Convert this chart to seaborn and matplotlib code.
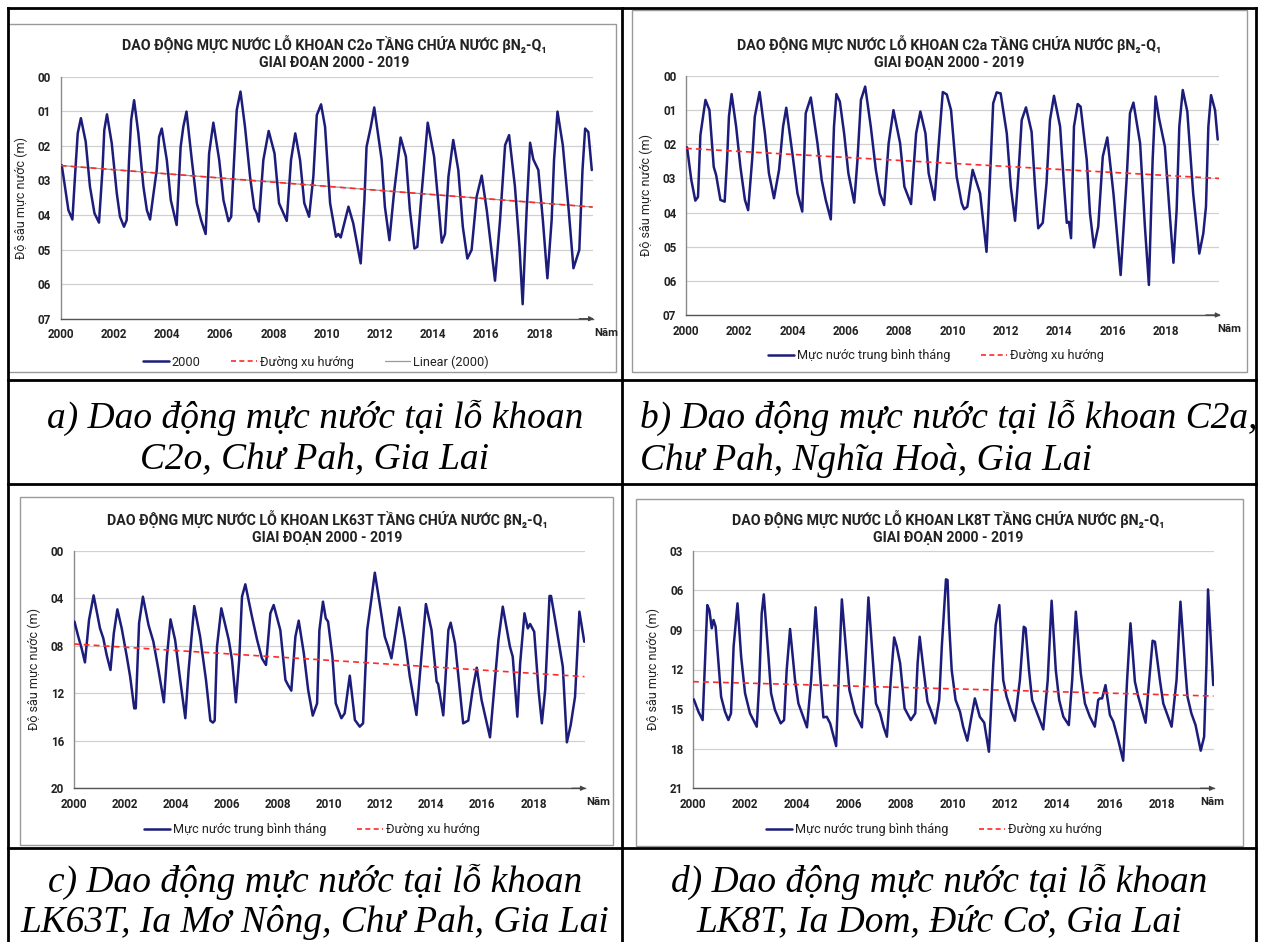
import matplotlib
matplotlib.use("Agg")
import matplotlib.pyplot as plt
import seaborn as sns
import pandas as pd
from matplotlib.lines import Line2D
from matplotlib.patches import Rectangle
from matplotlib.ticker import FuncFormatter
from matplotlib import font_manager

# ---------------- data: monthly-average water depth (m) ----------------
years_c2o = [2000.04, 2000.16, 2000.29, 2000.44, 2000.56, 2000.64, 2000.76, 2000.94, 2001.10, 2001.27,
             2001.44, 2001.57, 2001.64, 2001.74, 2001.92, 2002.11, 2002.23, 2002.38, 2002.48, 2002.57,
             2002.65, 2002.76, 2002.92, 2003.11, 2003.24, 2003.36, 2003.49, 2003.61, 2003.70, 2003.80,
             2003.99, 2004.14, 2004.36, 2004.51, 2004.61, 2004.73, 2004.93, 2005.12, 2005.28, 2005.45,
             2005.58, 2005.74, 2005.96, 2006.12, 2006.31, 2006.41, 2006.52, 2006.62, 2006.76, 2006.93,
             2007.12, 2007.28, 2007.37, 2007.45, 2007.62, 2007.82, 2008.04, 2008.21, 2008.50, 2008.66,
             2008.82, 2009.00, 2009.16, 2009.34, 2009.50, 2009.63, 2009.79, 2009.94, 2010.13, 2010.35,
             2010.44, 2010.53, 2010.82, 2011.00, 2011.28, 2011.42, 2011.50, 2011.66, 2011.79, 2012.07,
             2012.19, 2012.36, 2012.53, 2012.78, 2012.98, 2013.13, 2013.30, 2013.41, 2013.57, 2013.80,
             2014.04, 2014.20, 2014.33, 2014.45, 2014.58, 2014.76, 2014.95, 2015.12, 2015.29, 2015.45,
             2015.64, 2015.83, 2016.02, 2016.33, 2016.52, 2016.71, 2016.86, 2017.08, 2017.25, 2017.37,
             2017.52, 2017.65, 2017.77, 2017.96, 2018.13, 2018.30, 2018.46, 2018.55, 2018.68, 2018.88,
             2019.09, 2019.28, 2019.50, 2019.62, 2019.72, 2019.84, 2019.97]
depth_c2o = [2.56, 3.18, 3.86, 4.13, 2.60, 1.64, 1.20, 1.88, 3.18, 3.95,
             4.22, 2.70, 1.54, 1.09, 1.93, 3.38, 4.05, 4.34, 4.15, 2.41,
             1.25, 0.68, 1.64, 3.18, 3.86, 4.13, 3.38, 2.70, 1.74, 1.50,
             2.41, 3.57, 4.29, 2.03, 1.45, 1.01, 2.41, 3.66, 4.15, 4.55,
             2.22, 1.33, 2.41, 3.57, 4.18, 4.05, 2.41, 0.96, 0.43, 1.45,
             2.89, 3.81, 3.95, 4.19, 2.41, 1.57, 2.22, 3.66, 4.17, 2.41,
             1.64, 2.41, 3.66, 4.05, 2.89, 1.11, 0.80, 1.45, 3.66, 4.63,
             4.55, 4.65, 3.76, 4.24, 5.40, 3.57, 2.03, 1.45, 0.89, 2.41,
             3.76, 4.73, 3.38, 1.76, 2.31, 3.86, 4.97, 4.92, 3.38, 1.33,
             2.31, 3.66, 4.80, 4.55, 2.89, 1.83, 2.70, 4.34, 5.26, 5.01,
             3.47, 2.86, 3.86, 5.90, 4.15, 1.98, 1.69, 3.18, 4.92, 6.58,
             3.86, 1.91, 2.39, 2.70, 4.15, 5.83, 4.15, 2.41, 1.01, 1.98,
             3.76, 5.54, 5.01, 2.70, 1.50, 1.60, 2.70]
trend_c2o = [2.57, 3.77]

years_c2a = [2000.04, 2000.20, 2000.35, 2000.45, 2000.54, 2000.73, 2000.88, 2001.04, 2001.13, 2001.29,
             2001.45, 2001.54, 2001.61, 2001.71, 2001.88, 2002.04, 2002.21, 2002.33, 2002.48, 2002.58,
             2002.76, 2002.96, 2003.11, 2003.30, 2003.49, 2003.64, 2003.76, 2003.99, 2004.18, 2004.36,
             2004.49, 2004.68, 2004.93, 2005.09, 2005.24, 2005.43, 2005.55, 2005.64, 2005.77, 2005.93,
             2006.09, 2006.31, 2006.43, 2006.56, 2006.72, 2006.93, 2007.12, 2007.27, 2007.43, 2007.60,
             2007.78, 2008.03, 2008.19, 2008.44, 2008.63, 2008.79, 2008.98, 2009.10, 2009.32, 2009.48,
             2009.63, 2009.78, 2009.94, 2010.15, 2010.34, 2010.43, 2010.55, 2010.75, 2011.03, 2011.27,
             2011.43, 2011.52, 2011.65, 2011.80, 2012.03, 2012.18, 2012.34, 2012.46, 2012.59, 2012.75,
             2012.96, 2013.09, 2013.21, 2013.38, 2013.52, 2013.65, 2013.80, 2014.03, 2014.18, 2014.28,
             2014.36, 2014.44, 2014.55, 2014.69, 2014.80, 2015.03, 2015.15, 2015.30, 2015.46, 2015.63,
             2015.80, 2016.03, 2016.30, 2016.53, 2016.65, 2016.78, 2017.03, 2017.21, 2017.36, 2017.50,
             2017.61, 2017.74, 2017.96, 2018.13, 2018.28, 2018.40, 2018.50, 2018.63, 2018.80, 2019.02,
             2019.25, 2019.40, 2019.50, 2019.59, 2019.69, 2019.84, 2019.94]
depth_c2a = [2.09, 3.05, 3.65, 3.54, 1.73, 0.70, 1.00, 2.66, 2.90, 3.63,
             3.68, 2.46, 1.19, 0.53, 1.48, 2.66, 3.63, 3.93, 2.46, 1.19,
             0.47, 1.68, 2.85, 3.58, 2.75, 1.48, 0.93, 2.27, 3.44, 3.97,
             1.09, 0.63, 1.97, 3.05, 3.63, 4.20, 1.48, 0.53, 0.75, 1.68,
             2.85, 3.71, 2.46, 0.70, 0.31, 1.48, 2.75, 3.44, 3.78, 1.97,
             1.00, 1.97, 3.24, 3.75, 1.68, 1.04, 1.68, 2.85, 3.63, 1.97,
             0.47, 0.54, 1.00, 2.95, 3.73, 3.90, 3.83, 2.75, 3.44, 5.15,
             2.46, 0.80, 0.48, 0.51, 1.68, 3.24, 4.24, 2.95, 1.29, 0.92,
             1.63, 3.24, 4.46, 4.30, 3.14, 1.29, 0.58, 1.48, 3.24, 4.30,
             4.27, 4.75, 1.48, 0.82, 0.90, 2.46, 4.02, 5.02, 4.41, 2.36,
             1.80, 3.44, 5.83, 2.95, 1.09, 0.78, 1.97, 4.41, 6.12, 2.46,
             0.60, 1.24, 2.07, 3.93, 5.47, 3.93, 1.48, 0.41, 1.04, 3.44,
             5.20, 4.61, 3.83, 1.48, 0.56, 1.00, 1.86]
trend_c2a = [2.12, 3.00]

years_lk63t = [2000.03, 2000.18, 2000.31, 2000.44, 2000.60, 2000.78, 2001.03, 2001.16, 2001.29, 2001.44,
               2001.57, 2001.71, 2001.88, 2002.08, 2002.21, 2002.37, 2002.43, 2002.56, 2002.71, 2002.93,
               2003.12, 2003.32, 2003.53, 2003.65, 2003.79, 2003.97, 2004.17, 2004.37, 2004.50, 2004.72,
               2004.95, 2005.18, 2005.35, 2005.45, 2005.52, 2005.61, 2005.78, 2006.07, 2006.20, 2006.35,
               2006.48, 2006.59, 2006.72, 2006.98, 2007.18, 2007.37, 2007.53, 2007.70, 2007.83, 2008.09,
               2008.29, 2008.39, 2008.52, 2008.68, 2008.81, 2009.01, 2009.18, 2009.36, 2009.53, 2009.62,
               2009.76, 2009.87, 2009.96, 2010.13, 2010.26, 2010.48, 2010.61, 2010.81, 2011.01, 2011.20,
               2011.33, 2011.49, 2011.66, 2011.79, 2011.99, 2012.18, 2012.31, 2012.44, 2012.75, 2012.97,
               2013.16, 2013.42, 2013.79, 2014.01, 2014.21, 2014.27, 2014.47, 2014.67, 2014.76, 2014.93,
               2015.25, 2015.45, 2015.62, 2015.78, 2015.97, 2016.30, 2016.63, 2016.80, 2017.08, 2017.19,
               2017.37, 2017.48, 2017.65, 2017.78, 2017.87, 2018.03, 2018.20, 2018.33, 2018.46, 2018.63,
               2018.69, 2018.85, 2019.15, 2019.31, 2019.46, 2019.63, 2019.80, 2019.99]
depth_lk63t = [5.97, 7.24, 8.22, 9.40, 5.83, 3.76, 6.54, 7.38, 8.78, 10.04,
               6.96, 4.94, 6.54, 8.92, 10.60, 13.27, 13.27, 6.10, 3.87, 6.26,
               7.66, 10.04, 12.76, 8.92, 5.78, 7.50, 10.88, 14.10, 10.04, 4.66,
               7.24, 10.88, 14.30, 14.47, 14.30, 8.08, 4.85, 7.50, 9.20, 12.76,
               9.20, 3.87, 2.83, 5.55, 7.50, 9.06, 9.62, 5.27, 4.57, 6.68,
               10.88, 11.30, 11.78, 7.24, 5.89, 8.64, 11.72, 13.88, 12.85, 6.68,
               4.29, 5.69, 5.97, 8.92, 12.85, 14.10, 13.69, 10.52, 14.25, 14.81,
               14.53, 6.68, 4.01, 1.85, 4.57, 7.24, 8.08, 9.06, 4.77, 7.52,
               10.60, 13.83, 4.49, 6.68, 11.02, 11.22, 13.86, 6.68, 6.06, 7.80,
               14.53, 14.30, 11.72, 9.85, 12.57, 15.71, 7.52, 4.71, 8.08, 8.92,
               13.97, 9.48, 5.27, 6.54, 6.17, 6.82, 11.72, 14.53, 11.72, 3.81,
               3.81, 5.83, 9.76, 16.13, 14.67, 12.29, 5.13, 7.66]
trend_lk63t = [7.85, 10.60]

years_lk8t = [2000.03, 2000.21, 2000.37, 2000.46, 2000.55, 2000.63, 2000.72, 2000.79, 2000.87, 2000.97,
              2001.08, 2001.23, 2001.36, 2001.46, 2001.56, 2001.71, 2001.85, 2002.00, 2002.19, 2002.45,
              2002.55, 2002.64, 2002.72, 2002.90, 2003.00, 2003.15, 2003.37, 2003.50, 2003.60, 2003.73,
              2003.92, 2004.05, 2004.38, 2004.54, 2004.71, 2004.88, 2005.01, 2005.14, 2005.27, 2005.50,
              2005.62, 2005.72, 2005.88, 2006.01, 2006.23, 2006.49, 2006.59, 2006.74, 2006.90, 2007.03,
              2007.19, 2007.32, 2007.45, 2007.60, 2007.73, 2007.83, 2007.96, 2008.13, 2008.37, 2008.54,
              2008.63, 2008.71, 2008.86, 2009.01, 2009.18, 2009.31, 2009.46, 2009.56, 2009.72, 2009.78,
              2009.84, 2009.94, 2010.09, 2010.26, 2010.38, 2010.54, 2010.70, 2010.83, 2011.02, 2011.19,
              2011.37, 2011.54, 2011.63, 2011.77, 2011.92, 2012.05, 2012.20, 2012.37, 2012.56, 2012.71,
              2012.78, 2012.91, 2013.03, 2013.20, 2013.46, 2013.63, 2013.78, 2013.94, 2014.07, 2014.23,
              2014.44, 2014.57, 2014.71, 2014.90, 2015.06, 2015.25, 2015.44, 2015.57, 2015.63, 2015.72,
              2015.85, 2016.02, 2016.15, 2016.34, 2016.53, 2016.68, 2016.81, 2016.98, 2017.11, 2017.39,
              2017.53, 2017.66, 2017.75, 2017.94, 2018.07, 2018.23, 2018.39, 2018.58, 2018.73, 2018.90,
              2019.00, 2019.15, 2019.31, 2019.51, 2019.64, 2019.73, 2019.79, 2019.99]
depth_lk8t = [14.26, 15.20, 15.83, 11.54, 7.12, 7.50, 8.88, 8.25, 8.76, 11.28,
              14.06, 15.20, 15.83, 15.32, 10.27, 6.99, 11.03, 13.80, 15.32, 16.33,
              12.80, 7.75, 6.31, 11.03, 13.80, 15.07, 16.08, 15.83, 12.04, 8.93,
              12.80, 14.57, 16.38, 12.80, 7.29, 12.29, 15.63, 15.58, 16.08, 17.80,
              11.54, 6.69, 10.53, 13.56, 15.32, 16.38, 12.80, 6.54, 11.03, 14.57,
              15.32, 16.33, 17.09, 12.80, 9.57, 10.27, 11.54, 14.94, 15.83, 15.32,
              11.54, 9.52, 12.04, 14.44, 15.32, 16.08, 14.31, 10.27, 5.17, 5.22,
              8.50, 12.04, 14.31, 15.20, 16.33, 17.39, 15.58, 14.19, 15.58, 16.03,
              18.23, 11.54, 8.63, 7.12, 12.80, 14.06, 15.00, 15.88, 12.80, 8.76,
              8.88, 12.04, 14.31, 15.20, 16.54, 12.80, 6.79, 12.04, 14.31, 15.58,
              16.21, 12.80, 7.62, 12.29, 14.57, 15.58, 16.33, 14.31, 14.19, 14.19,
              13.18, 15.45, 15.95, 17.34, 18.91, 12.80, 8.50, 12.92, 14.06, 16.03,
              12.80, 9.82, 9.90, 12.80, 14.57, 15.45, 16.33, 12.80, 6.86, 11.54,
              14.06, 15.32, 16.21, 18.15, 17.09, 11.54, 5.93, 13.18]
trend_lk8t = [12.92, 14.01]

trend_years = [2000.0, 2020.0]
year_ticks = list(range(2000, 2020, 2))

# ---------------- style ----------------
sns.set_theme(style="white")
available = {f.name for f in font_manager.fontManager.ttflist}
SANS = "Roboto" if "Roboto" in available else "DejaVu Sans"
SERIF = "Liberation Serif" if "Liberation Serif" in available else "DejaVu Serif"
plt.rcParams["font.family"] = [SANS, "DejaVu Sans"]

NAVY = "#1c1c7a"
RED = "#ff2a2a"
GRID = "#d0d0d0"
AXIS = "#8a8a8a"
TXT = "#222222"

W, H = 1262, 942
fig = plt.figure(figsize=(W / 100, H / 100), dpi=100)
fig.patch.set_facecolor("white")


def fx(x):
    return x / W


def fy(y):
    return 1 - y / H


def hline(y, x0, x1, lw=2.0):
    fig.add_artist(Line2D([fx(x0), fx(x1)], [fy(y), fy(y)], color="black", lw=lw,
                          transform=fig.transFigure, solid_capstyle="projecting"))


def vline(x, y0, y1, lw=2.0):
    fig.add_artist(Line2D([fx(x), fx(x)], [fy(y0), fy(y1)], color="black", lw=lw,
                          transform=fig.transFigure, solid_capstyle="projecting"))


panels = [
    dict(years=years_c2o, depth=depth_c2o, trend=trend_c2o, ylim=(0, 7), yticks=range(0, 8),
         box=(60.7, 76.7, 592.6, 318.7), frame=(8, 24, 616, 372),
         title="DAO ĐỘNG MỰC NƯỚC LỖ KHOAN C2o TẦNG CHỨA NƯỚC βN₂-Q₁", title_xy=(334, 44),
         line_label="2000", linear=True, legend_xy=(316, 362), nam_xy=(606, 333)),
    dict(years=years_c2a, depth=depth_c2a, trend=trend_c2a, ylim=(0, 7), yticks=range(0, 8),
         box=(686.0, 76.0, 1219.3, 315.0), frame=(632, 10, 1247, 372),
         title="DAO ĐỘNG MỰC NƯỚC LỖ KHOAN C2a TẦNG CHỨA NƯỚC βN₂-Q₁", title_xy=(949, 44),
         line_label="Mực nước trung bình tháng", linear=False, legend_xy=(936, 356),
         nam_xy=(1229, 329)),
    dict(years=years_lk63t, depth=depth_lk63t, trend=trend_lk63t, ylim=(0, 20),
         yticks=range(0, 21, 4), box=(73.7, 550.7, 584.5, 788.3), frame=(20, 497, 613, 845),
         title="DAO ĐỘNG MỰC NƯỚC LỖ KHOAN LK63T TẦNG CHỨA NƯỚC βN₂-Q₁", title_xy=(327, 519),
         line_label="Mực nước trung bình tháng", linear=False, legend_xy=(312, 830),
         nam_xy=(598, 802)),
    dict(years=years_lk8t, depth=depth_lk8t, trend=trend_lk8t, ylim=(3, 21),
         yticks=range(3, 22, 3), box=(693.0, 550.7, 1213.5, 788.3), frame=(636, 499, 1243, 846),
         title="DAO ĐỘNG MỰC NƯỚC LỖ KHOAN LK8T TẦNG CHỨA NƯỚC βN₂-Q₁", title_xy=(948, 519),
         line_label="Mực nước trung bình tháng", linear=False, legend_xy=(934, 830),
         nam_xy=(1212, 802)),
]

# chart frames
for p in panels:
    x0, y0, x1, y1 = p["frame"]
    fig.add_artist(Rectangle((fx(x0), fy(y1)), (x1 - x0) / W, (y1 - y0) / H,
                             transform=fig.transFigure, fill=False, ec="#9a9a9a", lw=1.0))

for p in panels:
    x0, y0, x1, y1 = p["box"]
    ax = fig.add_axes([fx(x0), fy(y1), (x1 - x0) / W, (y1 - y0) / H])
    ax.set_facecolor("none")
    df = pd.DataFrame({"Năm": p["years"], "Độ sâu": p["depth"]})
    tr = pd.DataFrame({"Năm": trend_years, "Độ sâu": p["trend"]})

    if p["linear"]:
        sns.lineplot(data=tr, x="Năm", y="Độ sâu", ax=ax, color="#9a9a9a", lw=0.9,
                     estimator=None, zorder=2)
    sns.lineplot(data=df, x="Năm", y="Độ sâu", ax=ax, color=NAVY, lw=1.8,
                 estimator=None, sort=False, zorder=3)
    sns.lineplot(data=tr, x="Năm", y="Độ sâu", ax=ax, color=RED, lw=1.2,
                 linestyle=(0, (3.5, 2.5)), estimator=None, zorder=4)
    if ax.get_legend() is not None:
        ax.get_legend().remove()

    ymin, ymax = p["ylim"]
    ax.set_xlim(2000, 2020)
    ax.set_ylim(ymax, ymin)
    ax.set_yticks(list(p["yticks"]))
    ax.yaxis.set_major_formatter(FuncFormatter(lambda v, pos: f"{int(round(v)):02d}"))
    ax.set_xticks(year_ticks)
    ax.set_xticklabels([str(y) for y in year_ticks])
    ax.set_xlabel("")
    ax.set_ylabel("Độ sâu mực nước (m)", fontsize=9.0, color=TXT, labelpad=7)
    ax.yaxis.grid(True, color=GRID, lw=0.9)
    ax.xaxis.grid(False)
    ax.set_axisbelow(True)
    for s in ("top", "right"):
        ax.spines[s].set_visible(False)
    ax.spines["left"].set_color(AXIS)
    ax.spines["left"].set_linewidth(1.0)
    ax.spines["bottom"].set_color("#555555")
    ax.spines["bottom"].set_linewidth(1.0)
    ax.tick_params(axis="both", which="major", direction="out", length=4, width=0.9,
                   colors="#666666", labelcolor=TXT, labelsize=8.4, pad=3)
    for lab in ax.get_xticklabels() + ax.get_yticklabels():
        lab.set_fontweight("bold")
    ax.annotate("", xy=(2020.05, ymax), xytext=(2019.5, ymax), xycoords="data",
                arrowprops=dict(arrowstyle="-|>", color="#444444", lw=0.9, mutation_scale=7,
                                shrinkA=0, shrinkB=0),
                annotation_clip=False)

    tx, ty = p["title_xy"]
    fig.text(fx(tx), fy(ty), p["title"], ha="center", va="center", fontsize=10.2,
             fontweight="bold", color=TXT)
    fig.text(fx(tx), fy(ty + 19), "GIAI ĐOẠN 2000 - 2019", ha="center", va="center",
             fontsize=10.2, fontweight="bold", color=TXT)
    nx, ny = p["nam_xy"]
    fig.text(fx(nx), fy(ny), "Năm", ha="center", va="center", fontsize=8.2,
             fontweight="bold", color=TXT)

    handles = [Line2D([], [], color=NAVY, lw=1.8),
               Line2D([], [], color=RED, lw=1.2, linestyle=(0, (3, 2)))]
    labels = [p["line_label"], "Đường xu hướng"]
    if p["linear"]:
        handles.append(Line2D([], [], color="#9a9a9a", lw=0.9))
        labels.append("Linear (2000)")
    lx, ly = p["legend_xy"]
    fig.legend(handles, labels, loc="center", bbox_to_anchor=(fx(lx), fy(ly)),
               ncol=len(labels), frameon=False, fontsize=9.2, handlelength=2.0,
               handletextpad=0.25, columnspacing=2.4, labelcolor=TXT)

# table grid
hline(8, 8, 1256)
hline(380, 8, 1256)
hline(484, 8, 1256)
hline(848, 8, 1256)
vline(8, 8, 942)
vline(622, 8, 942)
vline(1256, 8, 942)

# captions
cap = dict(fontsize=26.9, fontstyle="italic", family=[SERIF, "DejaVu Serif"], color="black",
           va="center")
fig.text(fx(315), fy(418), "a) Dao động mực nước tại lỗ khoan", ha="center", **cap)
fig.text(fx(315), fy(460), "C2o, Chư Pah, Gia Lai", ha="center", **cap)
fig.text(fx(640), fy(418), "b) Dao động mực nước tại lỗ khoan C2a,", ha="left", **cap)
fig.text(fx(640), fy(460), "Chư Pah, Nghĩa Hoà, Gia Lai", ha="left", **cap)
fig.text(fx(315), fy(882), "c) Dao động mực nước tại lỗ khoan", ha="center", **cap)
fig.text(fx(315), fy(922), "LK63T, Ia Mơ Nông, Chư Pah, Gia Lai", ha="center", **cap)
fig.text(fx(939), fy(882), "d) Dao động mực nước tại lỗ khoan", ha="center", **cap)
fig.text(fx(939), fy(922), "LK8T, Ia Dom, Đức Cơ, Gia Lai", ha="center", **cap)

fig.savefig("out.png", dpi=100, facecolor="white")
